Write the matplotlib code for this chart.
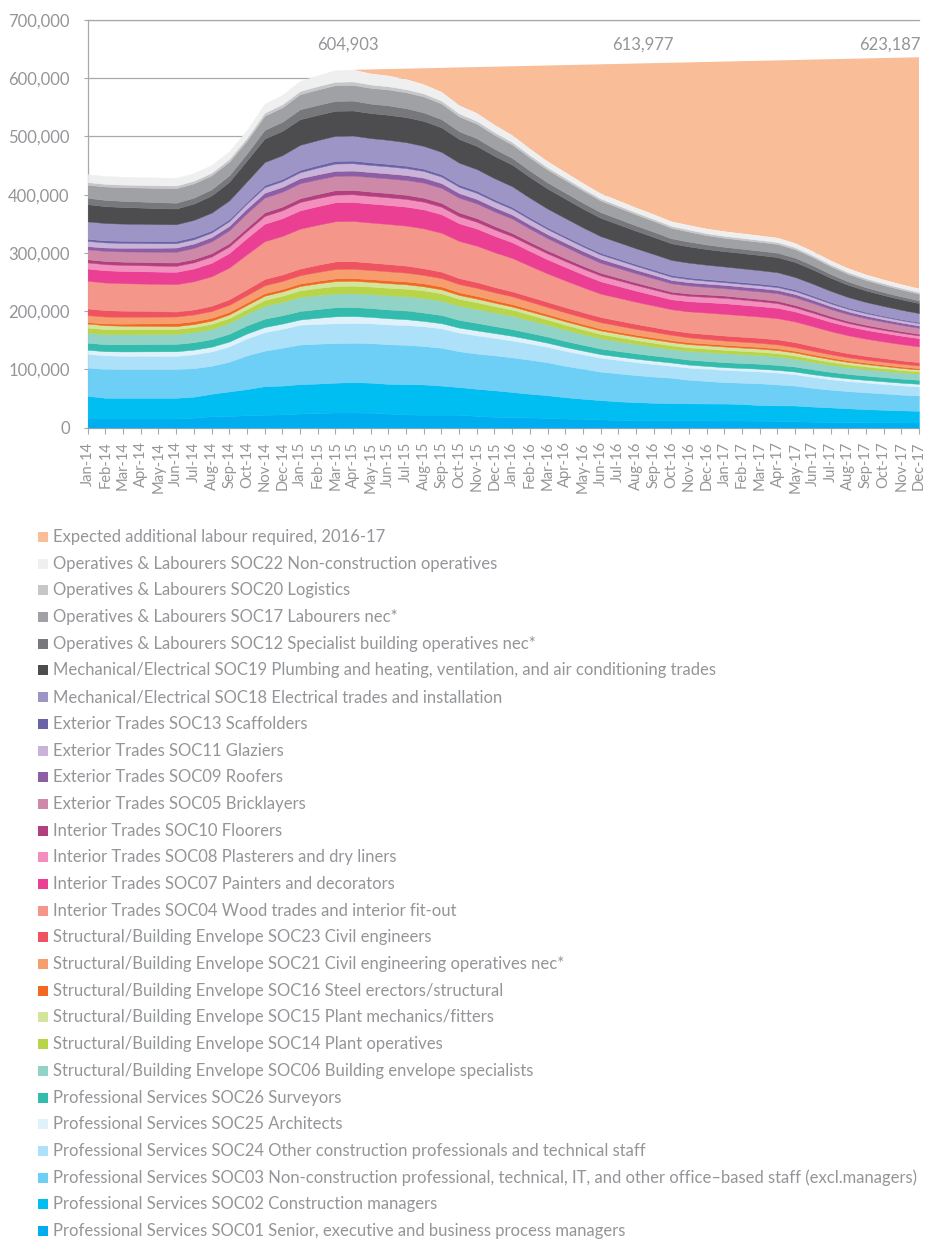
import numpy as np
import matplotlib
matplotlib.use("Agg")
import matplotlib.pyplot as plt
from matplotlib.patches import Rectangle
from matplotlib.ticker import FuncFormatter

plt.rcParams['font.family'] = ['Lato', 'DejaVu Sans']

# ---- data (thousands of workers) ----
months = ["Jan-14", "Feb-14", "Mar-14", "Apr-14", "May-14", "Jun-14", "Jul-14", "Aug-14",
          "Sep-14", "Oct-14", "Nov-14", "Dec-14", "Jan-15", "Feb-15", "Mar-15", "Apr-15",
          "May-15", "Jun-15", "Jul-15", "Aug-15", "Sep-15", "Oct-15", "Nov-15", "Dec-15",
          "Jan-16", "Feb-16", "Mar-16", "Apr-16", "May-16", "Jun-16", "Jul-16", "Aug-16",
          "Sep-16", "Oct-16", "Nov-16", "Dec-16", "Jan-17", "Feb-17", "Mar-17", "Apr-17",
          "May-17", "Jun-17", "Jul-17", "Aug-17", "Sep-17", "Oct-17", "Nov-17", "Dec-17"]

soc01 = [15.5,15.5,15.5,15.5,15.5,15.5, 17,19.5,20,21,22,22.5, 24,25,25.8,25.8,25.5,24,
         22.5,22,22,22,20,18.5, 18,17.5,16.5,15.5,15,14, 13,12.6,12.6,12.6,12.5,12.3,
         12,12,11.8,11.5,11,10, 9.7,9.5,9.2,9,8.8,8.5]
soc02 = [38.9,35.5,35.5,35.5,35.5,35.5, 36,38.5,42,45,49,49.5, 50.5,50.5,51.2,52.2,51.5,51,
         52,52,50,47.5,46.5,45.5, 43,40.5,39,36.5,34.5,33, 32,30.9,29.9,29.4,29,28.9,
         29.2,28.5,26.7,26.5,26.8,26, 24.8,23.5,22.3,21.5,20.7,20.1]
soc03 = [48.6,49.5,49,49,49,49, 49,48,51,58,61,65, 68,68.5,68,67.5,68,68,
         67.5,66,65,61.5,60.5,60, 59.5,58.5,56.5,54,51.5,49, 48,46.5,45,43.5,40.5,38.8,
         36.8,36.5,37.5,36,34.2,32, 30.5,29.5,29,28,27,26.4]
soc24 = [23.5,23.4,23.3,23.2,23.1,23, 23.7,24.7,26.4,29,31.8,32.6, 34,34,34,34,34,34,
         34,34,33.3,32,31.3,30, 29,27.7,26.6,25.7,24.8,24, 23.1,22.3,21.5,20.5,20.7,20.9,
         21,20.7,20.4,20.3,19.5,18.9, 18,17.3,16.7,16.3,15.9,15.5]
soc25 = [7,7.2,7.4,7.6,7.8,8, 8.1,8.1,8.3,8.5,8.8,8.9, 9,10.5,12,12,11,10.7,
         10.1,9,8.9,8.6,8.5,8.2, 8,7.5,7,6.7,6.3,6, 5.9,5.9,5.8,5.7,5.3,4.9,
         4.6,4.6,4.6,4.6,4.6,4.6, 4.6,4.6,4.6,4.6,4.6,4.6]
soc26 = [12,12.1,12.2,12.4,12.5,12.6, 12.8,13,13.4,14,14.3,14.4, 14.5,15,15.5,15.5,15.2,15.1,
         14.9,14.5,14,13.3,12.9,12.1, 11.5,11,10.6,10.3,10,9.7, 9.4,9.2,8.9,8.6,8.6,8.6,
         8.6,8.6,8.6,8.6,8.6,8.3, 8,7.6,7.4,7.2,7,6.9]
soc06 = [17,17,17,17,17,17, 17.3,17.8,18.7,20,22.2,22.9, 24,23.8,23.5,23.5,24,24.2,
         24.5,25,24.7,24.2,23.9,23.4, 23,21.6,20.3,19.4,18.4,17.5, 16.8,16,15.3,14.5,14.8,15.2,
         15.5,15.1,14.7,14.4,13.2,12.8, 12.1,11.6,11.2,10.9,10.6,10.3]
soc14 = [9,8.9,8.8,8.7,8.6,8.6, 8.5,8.4,8.3,8,10,10.5, 11.5,12.3,13,13,13,13,
         13,13,12.6,11.9,11.5,10.9, 10.3,9.6,8.9,8.5,8,7.5, 7.2,6.9,6.6,6.3,6.1,5.9,
         5.7,5.7,5.7,5.7,5.7,5.4, 5.1,4.8,4.5,4.3,4.1,4]
soc15 = [7,6.6,6.2,5.8,5.4,5, 5.2,5.6,6.1,7,7.3,7.4, 7.5,8,8.5,8.5,8,7.9,
         7.5,7,6.8,6.6,6.3,5.8, 5.5,5.6,5.7,5.8,5.9,6, 5.9,5.8,5.8,5.7,5.7,5.7,
         5.7,5.6,5.5,5.4,5.2,4.9, 4.6,4.2,4,3.8,3.6,3.4]
soc16 = [2.5,3,3.5,4,4.5,5, 4.9,4.7,4.4,4.2,4.2,4.2, 4.2,4.4,4.6,4.6,4.7,4.8,
         4.9,5,4.9,4.6,4.5,4.2, 4,3.8,3.6,3.5,3.4,3.2, 3.2,3.2,3.2,3.2,3.1,3,
         2.9,2.9,2.9,2.9,2.9,2.8, 2.7,2.6,2.5,2.4,2.4,2.3]
soc21 = [12,11.9,11.8,11.7,11.6,11.5, 11.6,11.8,12.1,12.6,13.6,13.8, 14.3,15.2,16,16,15.7,15.6,
         15.1,14.5,14.4,14.1,14,13.6, 13.5,12.9,12.3,11.9,11.4,11, 10.6,10.1,9.7,9.2,8.6,7.9,
         7.4,7.2,7,6.9,6.3,6, 5.7,5.4,5.1,4.9,4.7,4.6]
soc23 = [11.5,11,10.4,9.8,9.2,8.5, 8.7,9.1,9.7,10.3,11,11.2, 11.5,12.3,13.2,13.2,12.7,12.5,
         12.1,11.5,11.1,10.3,10,9.2, 8.6,8.7,8.8,8.9,8.9,9, 8.8,8.5,8.2,8,8.2,8.4,
         8.6,8.6,8.6,8.6,8.6,8.1, 7.5,7,6.6,6.3,6,5.7]
soc04 = [47.5,47.4,47.3,47.1,47,47, 48.4,50.6,54.3,60,64.8,66.1, 68.5,68.7,69,69,68.8,68.8,
         68.7,68.5,66.8,63.9,62.3,59.7, 57.3,52.8,48.8,45.9,42.8,40, 39,38,37.1,36,36.4,36.9,
         37.2,36.9,36.6,36.4,35.5,34.1, 32.2,30.7,29.5,28.5,27.8,26.9]
soc07 = [21,21,21,21.1,21.1,21.2, 22,23.1,25,28,30,30.5, 31.5,32,32.6,32.6,32.6,32.6,
         32.6,32.6,31.8,30.3,29.5,28.2, 27,25.5,24.2,23.2,22.1,21.2, 20.2,19.2,18,17,17.4,17.9,
         18.3,18.1,17.9,17.8,17.2,16.7, 16.1,15.6,15.2,14.9,14.6,14.3]
soc08 = [10.5,10.5,10.4,10.4,10.3,10.3, 10.5,10.8,11.3,12,13.3,13.6, 14.3,13.8,13.2,13.2,13.2,13.2,
         13.2,13.2,12.8,12,11.6,10.9, 10.3,10.2,10.2,10.1,10,10, 9.8,9.6,9.4,9.2,9.2,9.2,
         9.2,8.8,8.4,8,6.9,6.5, 6,5.6,5.3,5,4.8,4.6]
soc10 = [5.5,5.5,5.6,5.6,5.7,5.7, 5.7,5.7,5.7,5.7,6.2,6.3, 6.5,7,7.5,7.5,7.3,7.3,
         7.1,6.9,6.8,6.6,6.4,6, 5.7,5.4,5.2,5,4.8,4.6, 4.5,4.3,4.2,4,4,4,
         4,4,4.1,4.1,4.2,4, 3.8,3.5,3.3,3.2,3,2.9]
soc05 = [17,17.3,17.5,17.8,18,18.3, 19,20.2,22,25,25.4,25.6, 25.8,25.2,24.6,24.6,25,25.1,
         25.4,25.8,25.6,25.3,25.1,24.8, 24.6,22.7,21,19.7,18.4,17.2, 16.5,15.8,15.1,14.3,13.8,13,
         12.6,12.7,12.8,12.9,13.2,12.7, 12.1,11.6,11.2,10.9,10.6,10.3]
soc09 = [5.5,5.9,6.3,6.6,7,7.4, 7.5,7.6,7.7,8,8.3,8.4, 8.6,8.6,8.6,8.6,8.6,8.6,
         8.6,8.6,8.3,7.9,7.7,7.3, 6.9,6.9,6.9,6.9,6.9,6.9, 6.6,6.3,6,5.7,5.7,5.7,
         5.7,5.7,5.7,5.7,5.7,5.4, 5.1,4.8,4.5,4.3,4.1,4]
soc11 = [9,8.7,8.4,8,7.7,7.4, 7.5,7.7,8.1,8.6,9.6,9.8, 10.3,11.5,12.6,12.6,12.2,12.1,
         11.8,11.5,11.2,10.8,10.5,10.1, 9.7,9.1,8.6,8.2,7.8,7.4, 7,6.6,6.2,5.7,5.3,4.9,
         4.6,4.7,4.8,4.8,5,4.8, 4.6,4.4,4.3,4.2,4.1,4]
soc13 = [3.5,3.6,3.7,3.8,3.9,4, 3.9,3.7,3.4,3,3.6,3.7, 4,4.3,4.6,4.6,4.4,4.3,
         4.2,4,3.9,3.8,3.7,3.5, 3.4,3.3,3.1,3,3,2.9, 2.9,2.9,2.9,2.9,2.9,2.9,
         2.9,2.9,2.9,2.9,2.9,2.7, 2.5,2.2,2,1.9,1.8,1.7]
soc18 = [30,29.7,29.4,29.2,28.9,28.6, 29.3,30.4,32.2,35,39.5,40.8, 43,43,43,43,41.7,41.3,
         40.4,39,38.5,37.6,37.1,36.2, 35.5,33.7,32.1,31,29.7,28.6, 27.9,27.2,26.6,25.8,25.3,24.6,
         24.1,23.6,23,22.7,21.2,20.3, 19,18,17.2,16.6,16,15.5]
soc19 = [29.5,29,28.5,28,27.5,27, 28,29.5,32,36,40.5,41.8, 44,43.5,43,43,43,43,
         43,43,42.1,40.6,39.8,38.4, 37.2,35.7,34.4,33.4,32.4,31.5, 30.8,30.1,29.4,28.6,27.9,26.9,
         26.3,26.2,26.1,26,25.8,24.4, 22.5,21,19.8,18.8,18,17.2]
soc12 = [11,10.8,10.6,10.4,10.2,10, 10.2,10.6,11.1,12,14.8,15.6, 17,17,17,17,16.2,16.2,
         15.4,14.5,14.1,13.4,13.1,12.2, 11.5,11,10.6,10.3,10,9.7, 9.4,9.1,8.8,8.6,8.3,7.8,
         7.5,7.5,7.5,7.5,7.5,7.1, 6.4,5.8,5.4,5.1,4.9,4.6]
soc17 = [22.5,23,23.5,24,24.5,25, 24.5,24,23.5,22,24.2,24.9, 26,26.5,26.9,26.9,27.1,27.2,
         27.3,27.5,26.8,25.6,25,23.9, 22.9,22.4,21.9,21.5,20.9,20, 19.5,19,18.6,18,17.2,16.1,
         15.5,15.3,15.1,15,14.5,14, 13.4,12.9,12.5,12.2,11.8,11.5]
soc20 = [4.5,4.5,4.5,4.5,4.6,4.6, 4.6,4.6,4.7,4.8,5.2,5.3, 5.5,5.8,6,6,5.8,5.6,
         5.4,5.2,5.1,5,4.9,4.7, 4.5,4.3,4.1,3.9,3.7,3.5, 3.5,3.5,3.4,3.4,3.4,3.4,
         3.4,3.4,3.3,3.3,3.3,3.2, 3.2,3.1,3.1,3,3,3]
soc22 = [13.5,13.4,13.4,13.3,13.3,13.2, 13.2,13.1,13.1,13,15.4,16, 17.2,18.6,20,20,18.5,18,
         17,15.4,14.8,13.8,13.2,12.3, 11.5,10.7,10,9.5,8.9,8.5, 8.2,8,7.7,7.4,7.4,7.4,
         7.4,7.3,7.2,7.2,6.9,6.7, 6.5,6.3,6.1,6,5.8,5.7]

# expected total requirement line (thousands), from the Apr-15 peak to Dec-17
required_from = "Apr-15"
required_dec17 = 636.0

annotations = [("604,903", 14.7), ("613,977", 31.4), ("623,187", 45.35)]

# bottom to top
series = [
    ("Professional Services SOC01 Senior, executive and business process managers", soc01, "#00aeef"),
    ("Professional Services SOC02 Construction managers", soc02, "#00bdf2"),
    ("Professional Services SOC03 Non-construction professional, technical, IT, and other office\u2013based staff (excl.managers)", soc03, "#6dcff6"),
    ("Professional Services SOC24 Other construction professionals and technical staff", soc24, "#ade0f9"),
    ("Professional Services SOC25 Architects", soc25, "#dff1fb"),
    ("Professional Services SOC26 Surveyors", soc26, "#33bbad"),
    ("Structural/Building Envelope SOC06 Building envelope specialists", soc06, "#92d3c8"),
    ("Structural/Building Envelope SOC14 Plant operatives", soc14, "#b8d448"),
    ("Structural/Building Envelope SOC15 Plant mechanics/fitters", soc15, "#d3e49c"),
    ("Structural/Building Envelope SOC16 Steel erectors/structural", soc16, "#f26722"),
    ("Structural/Building Envelope SOC21 Civil engineering operatives nec*", soc21, "#f79e6e"),
    ("Structural/Building Envelope SOC23 Civil engineers", soc23, "#ef5360"),
    ("Interior Trades SOC04 Wood trades and interior fit-out", soc04, "#f4978a"),
    ("Interior Trades SOC07 Painters and decorators", soc07, "#ea3f93"),
    ("Interior Trades SOC08 Plasterers and dry liners", soc08, "#f28fbd"),
    ("Interior Trades SOC10 Floorers", soc10, "#b3407e"),
    ("Exterior Trades SOC05 Bricklayers", soc05, "#cf89a8"),
    ("Exterior Trades SOC09 Roofers", soc09, "#8e5ea5"),
    ("Exterior Trades SOC11 Glaziers", soc11, "#c9b3d8"),
    ("Exterior Trades SOC13 Scaffolders", soc13, "#6b63a8"),
    ("Mechanical/Electrical SOC18 Electrical trades and installation", soc18, "#9e95c7"),
    ("Mechanical/Electrical SOC19 Plumbing and heating, ventilation, and air conditioning trades", soc19, "#4d4d4f"),
    ("Operatives & Labourers SOC12 Specialist building operatives nec*", soc12, "#77787b"),
    ("Operatives & Labourers SOC17 Labourers nec*", soc17, "#a0a1a4"),
    ("Operatives & Labourers SOC20 Logistics", soc20, "#c6c7c9"),
    ("Operatives & Labourers SOC22 Non-construction operatives", soc22, "#efefef"),
]
expected_label = "Expected additional labour required, 2016-17"
expected_color = "#f9bd97"

grey = "#939598"
line_grey = "#a7a9ac"

fig = plt.figure(figsize=(9.25, 12.41), dpi=100)
ax = fig.add_axes([0.0948, 0.6555, 0.8987, 0.3284])

x = np.arange(len(months))
vals = np.array([s[1] for s in series]) * 1000
top = vals.sum(axis=0)

# expected additional labour area: straight requirement line above the stack
i0 = months.index(required_from)
xs = x[i0:]
req = top[i0] + (required_dec17 * 1000 - top[i0]) * (xs - i0) / (x[-1] - i0)
ax.fill(list(xs) + list(xs[::-1]), list(req) + list(top[i0:][::-1]),
        color=expected_color, lw=0, zorder=2)

base = np.zeros(len(months))
for lab, v, col in series:
    v = np.array(v) * 1000
    ax.fill_between(x, base, base + v, facecolor=col, edgecolor=col, lw=0.3, zorder=3)
    base = base + v

for txt, xpos in annotations:
    ax.text(xpos, 657000, txt, ha="center", va="center", fontsize=12, color=grey)

ax.set_xlim(0, len(months) - 1)
ax.set_ylim(0, 700000)
ax.set_yticks(np.arange(0, 700001, 100000))
ax.yaxis.set_major_formatter(FuncFormatter(lambda v, p: f"{int(v):,}"))
ax.set_xticks(x)
ax.set_xticklabels(months, rotation=90, fontsize=10.6, color=grey)
ax.tick_params(axis="y", labelsize=12, labelcolor=grey, color=line_grey, length=3, width=0.8, pad=10)
ax.tick_params(axis="x", color=line_grey, length=4, width=0.8, pad=6)
ax.grid(axis="y", color=line_grey, lw=0.9, zorder=0)
ax.set_axisbelow(True)
for s in ["top", "right"]:
    ax.spines[s].set_visible(False)
for s in ["left", "bottom"]:
    ax.spines[s].set_color(line_grey)
    ax.spines[s].set_linewidth(0.9)
ax.axhline(700000, color=line_grey, lw=0.9, zorder=1, clip_on=False)

# legend, drawn as a list top to bottom
W, H = 925.0, 1241.0
entries = [(expected_label, expected_color)] + [(s[0], s[2]) for s in series[::-1]]
step = (1231 - 537) / (len(entries) - 1)
for i, (lab, col) in enumerate(entries):
    yc = 537 + i * step
    fig.patches.append(Rectangle((38 / W, 1 - (yc + 5) / H), 10 / W, 10 / H,
                                 transform=fig.transFigure, color=col, lw=0))
    fig.text(53 / W, 1 - yc / H, lab, ha="left", va="center", fontsize=12.0, color=grey)

fig.savefig("out.png", dpi=100)
